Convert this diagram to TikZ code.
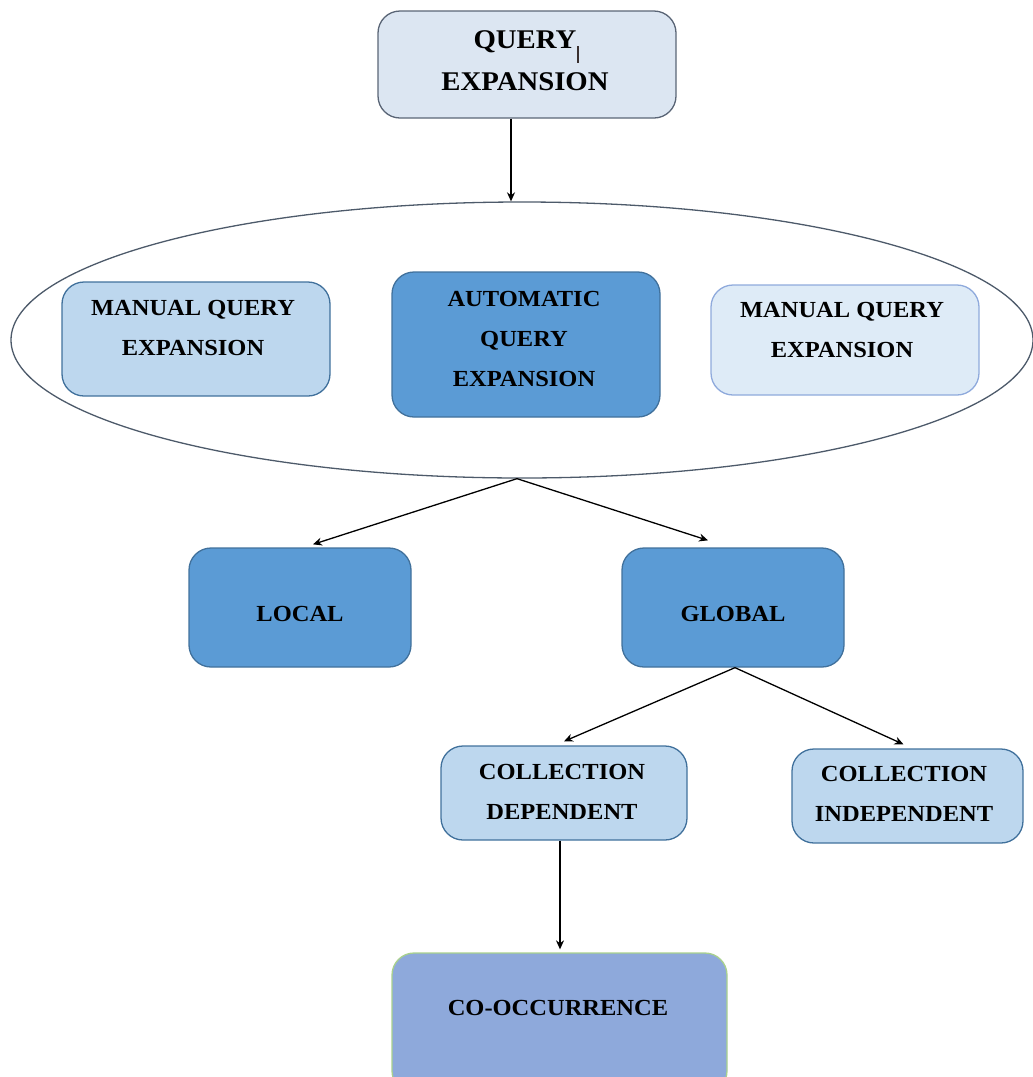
\documentclass[tikz,border=0pt]{standalone}
\usepackage{fontspec}
\setmainfont[FakeStretch=1.065]{Liberation Serif}
\usetikzlibrary{shapes.geometric,arrows.meta}
\definecolor{topfill}{HTML}{DCE6F2}
\definecolor{topline}{HTML}{5A6576}
\definecolor{lightfill}{HTML}{BDD7EE}
\definecolor{midfill}{HTML}{5B9BD5}
\definecolor{bluedge}{HTML}{41719C}
\definecolor{palefill}{HTML}{DEEBF7}
\definecolor{paleedge}{HTML}{8FAADC}
\definecolor{cofill}{HTML}{8EA9DB}
\definecolor{coedge}{HTML}{A9D18E}
\definecolor{elledge}{HTML}{4D5A6A}
\definecolor{cursorcol}{HTML}{3A3030}
\tikzset{
  x=1pt, y=-1pt,
  boxbase/.style={rounded corners=22pt, line width=1.3pt, inner sep=0pt},
  topbox/.style={boxbase, fill=topfill, draw=topline},
  lightbox/.style={boxbase, fill=lightfill, draw=bluedge},
  midbox/.style={boxbase, fill=midfill, draw=bluedge},
  palebox/.style={boxbase, fill=palefill, draw=paleedge},
  cobox/.style={boxbase, fill=cofill, draw=coedge},
  lbl/.style={align=center, font=\fontsize{23}{40}\selectfont\bfseries, inner sep=0pt},
  biglbl/.style={align=center, font=\fontsize{27}{42}\selectfont\bfseries, inner sep=0pt},
  arr/.style={line width=1.3pt, -{Stealth[length=9pt,width=8pt]}},
}
\begin{document}
\begin{tikzpicture}
\useasboundingbox (0,0) rectangle (1033,1077);
% boxes
\node[topbox, minimum width=298pt, minimum height=107pt] (qe) at (527,64.5) {};
\node[draw=elledge, line width=1.3pt, ellipse, minimum width=1022pt, minimum height=276pt, inner sep=0pt] (ell) at (522,340) {};
\node[lightbox, minimum width=268pt, minimum height=114pt] (mqel) at (196,339) {};
\node[midbox, minimum width=268pt, minimum height=145pt] (aqe) at (526,344.5) {};
\node[palebox, minimum width=268pt, minimum height=110pt] (mqer) at (845,340) {};
\node[midbox, minimum width=222pt, minimum height=119pt] (loc) at (300,607.5) {};
\node[midbox, minimum width=222pt, minimum height=119pt] (glob) at (733,607.5) {};
\node[lightbox, minimum width=246pt, minimum height=94pt] (cd) at (564,793) {};
\node[lightbox, minimum width=231pt, minimum height=94pt] (ci) at (907.5,796) {};
\node[cobox, minimum width=335pt, minimum height=140pt] (co) at (559.5,1023) {};
% labels
\node[biglbl] (tqe) at (525,61) {QUERY\\EXPANSION};
\draw[line width=1.8pt, cursorcol] (578,46) -- (578,63);
\node[lbl] (tmqel) at (193,327.5) {MANUAL QUERY\\EXPANSION};
\node[lbl] (taqe) at (524,339) {AUTOMATIC\\QUERY\\EXPANSION};
\node[lbl] (tmqer) at (842,330) {MANUAL QUERY\\EXPANSION};
\node[lbl] (tloc) at (300,614) {LOCAL};
\node[lbl] (tglob) at (733,614) {GLOBAL};
\node[lbl] (tcd) at (562,792) {COLLECTION\\DEPENDENT};
\node[lbl] (tci) at (904,794) {COLLECTION\\INDEPENDENT};
\node[lbl] (tco) at (558,1008) {CO-OCCURRENCE};
% connectors
\draw[arr] ([xshift=-16pt]qe.south) -- ([xshift=-16pt]qe.south |- ell.north);
\coordinate (ellfoot) at ([xshift=-5pt]ell.south);
\draw[arr] (ellfoot) -- ([xshift=13pt,yshift=3pt]loc.north);
\draw[arr] (ellfoot) -- ([xshift=-25pt,yshift=7pt]glob.north);
\coordinate (globfoot) at ([xshift=2pt]glob.south);
\draw[arr] (globfoot) -- ([yshift=4pt]cd.north);
\draw[arr] (globfoot) -- ([xshift=-4pt,yshift=4pt]ci.north);
\draw[arr] ([xshift=-4pt]cd.south) -- ([xshift=-4pt,yshift=3pt]cd.south |- co.north);
\end{tikzpicture}
\end{document}
